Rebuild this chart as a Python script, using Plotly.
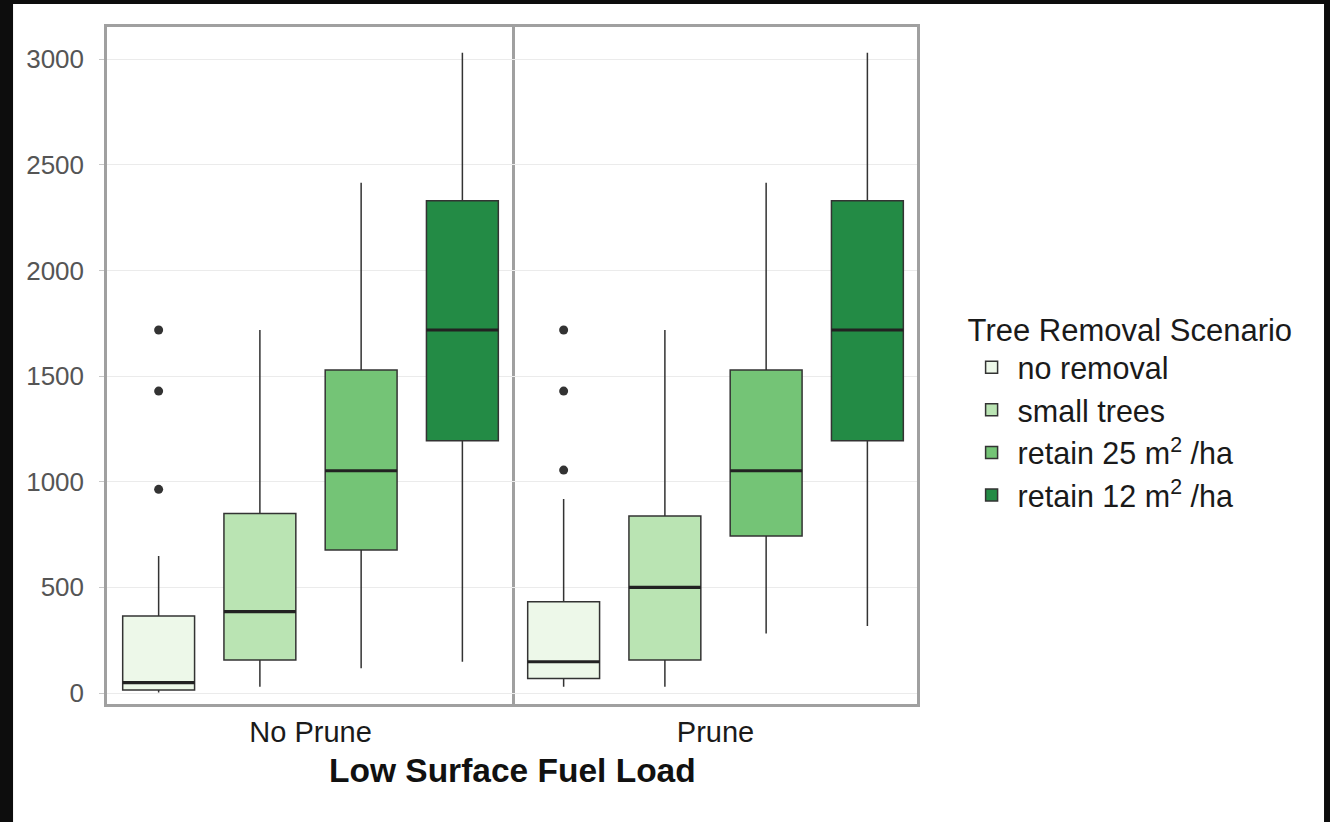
import plotly.graph_objects as go
from plotly.subplots import make_subplots

# Tree removal scenarios (fill groups) and pruning facets
scenarios = ["no removal", "small trees", "retain 25 m<sup>2</sup> /ha", "retain 12 m<sup>2</sup> /ha"]
colors = ["#edf8e9", "#bae4b3", "#74c476", "#238b45"]
panels = ["No Prune", "Prune"]

# Five-number summaries, No Prune
lo_noprune = [2, 30, 117, 148]
q1_noprune = [14, 156, 677, 1194]
med_noprune = [49, 385, 1052, 1718]
q3_noprune = [364, 850, 1529, 2330]
hi_noprune = [648, 1718, 2415, 3030]
out_noprune = [1718, 1429, 964]  # outliers of "no removal"

# Five-number summaries, Prune
lo_prune = [30, 30, 282, 317]
q1_prune = [69, 156, 743, 1194]
med_prune = [148, 500, 1052, 1718]
q3_prune = [432, 838, 1529, 2330]
hi_prune = [918, 1718, 2415, 3030]
out_prune = [1718, 1429, 1055]  # outliers of "no removal"

y_ticks = [0, 500, 1000, 1500, 2000, 2500, 3000]

stats = [
    (lo_noprune, q1_noprune, med_noprune, q3_noprune, hi_noprune, out_noprune),
    (lo_prune, q1_prune, med_prune, q3_prune, hi_prune, out_prune),
]

BOX_W = 0.71
EDGE = "#333333"
FONT = "Liberation Sans, Arial, sans-serif"

fig = make_subplots(rows=1, cols=2, shared_yaxes=True, horizontal_spacing=0)

for p, (lo, q1, med, q3, hi, outs) in enumerate(stats):
    col = p + 1
    for i, name in enumerate(scenarios):
        pos = i + 1
        fig.add_trace(
            go.Box(
                x=[pos], lowerfence=[lo[i]], q1=[q1[i]], median=[med[i]],
                q3=[q3[i]], upperfence=[hi[i]],
                name=name, legendgroup=name, showlegend=(p == 0),
                fillcolor=colors[i], line=dict(color=EDGE, width=1.5),
                width=BOX_W, whiskerwidth=0, boxpoints=False,
                hoverinfo="skip",
            ),
            row=1, col=col,
        )
        # thicker median bar drawn over the box
        fig.add_trace(
            go.Scatter(
                x=[pos - BOX_W / 2, pos + BOX_W / 2], y=[med[i], med[i]],
                mode="lines", line=dict(color="#222222", width=3.2),
                showlegend=False, hoverinfo="skip",
            ),
            row=1, col=col,
        )
    fig.add_trace(
        go.Scatter(
            x=[1] * len(outs), y=outs, mode="markers",
            marker=dict(color=EDGE, size=9),
            showlegend=False, hoverinfo="skip",
        ),
        row=1, col=col,
    )

axis_common = dict(
    range=[0.49, 4.49], showgrid=False, zeroline=False,
    showline=True, mirror=True, linecolor="#a0a0a0", linewidth=2.5,
    ticks="", tickvals=[2.5],
    tickfont=dict(family=FONT, size=29, color="#1a1a1a"),
    ticklabelstandoff=0,
)
fig.update_xaxes(axis_common)
fig.update_xaxes(ticktext=[panels[0]], row=1, col=1)
fig.update_xaxes(ticktext=[panels[1]], row=1, col=2)
fig.update_xaxes(domain=[0, 0.5], row=1, col=1)
fig.update_xaxes(domain=[0.5, 1], row=1, col=2)

fig.update_yaxes(
    range=[-52, 3152], tickvals=y_ticks, showgrid=True, gridcolor="#ebebeb", gridwidth=1.3,
    zeroline=False, showline=True, linecolor="#a0a0a0", linewidth=2.5,
)
# left panel draws its left edge and the shared divider
fig.update_yaxes(
    mirror=True,
    ticks="outside", ticklen=5, tickcolor="#c8c8c8", tickwidth=1,
    tickfont=dict(family=FONT, size=26, color="#555555"),
    ticklabelstandoff=10, row=1, col=1,
)
# right panel draws only its outer right edge
fig.update_yaxes(mirror=False, side="right", showticklabels=False, ticks="", row=1, col=2)

# page frame: dark surround with a white figure area
fig.add_shape(
    type="rect", xref="paper", yref="paper",
    x0=-0.116, x1=1.5025, y0=-0.18, y1=1.034,
    fillcolor="white", line=dict(width=0), layer="below",
)

fig.add_annotation(
    text="<b>Low Surface Fuel Load</b>", xref="paper", yref="paper",
    x=0.5, y=-0.098, xanchor="center", yanchor="middle", showarrow=False,
    font=dict(family=FONT, size=33.5, color="#111111"),
)

fig.update_layout(
    width=1330, height=822,
    margin=dict(l=107, r=413, t=27, b=118),
    paper_bgcolor="#0d0d0d", plot_bgcolor="white",
    font=dict(family=FONT),
    legend=dict(
        title=dict(text="Tree Removal Scenario",
                   font=dict(size=31, color="#1a1a1a")),
        font=dict(size=30.5, color="#1a1a1a"),
        x=1.06, xanchor="left", y=0.596, yanchor="top",
        bgcolor="rgba(0,0,0,0)", tracegroupgap=0, itemwidth=42,
    ),
)

fig.write_html("out.html")
